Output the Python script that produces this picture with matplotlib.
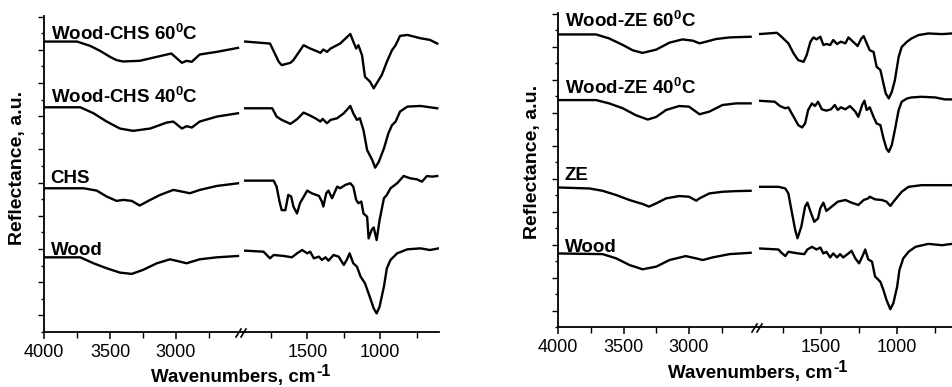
import matplotlib
matplotlib.use("Agg")
import matplotlib.pyplot as plt
from matplotlib import font_manager
from matplotlib.lines import Line2D
from matplotlib.ticker import FixedLocator, NullFormatter

# fuentes
nombres = {f.name for f in font_manager.fontManager.ttflist}
hay_narrow = "Liberation Sans Narrow" in nombres
fuente_ticks = "Liberation Sans Narrow" if hay_narrow else "Liberation Sans"
tam_ticks = 15 if hay_narrow else 13
plt.rcParams["font.family"] = ["Liberation Sans", "DejaVu Sans"]
plt.rcParams["mathtext.fontset"] = "custom"
plt.rcParams["mathtext.rm"] = "Liberation Sans:bold"
plt.rcParams["mathtext.it"] = "Liberation Sans:bold"
plt.rcParams["mathtext.bf"] = "Liberation Sans:bold"

# ---------------- Panel izquierdo: madera - CHS ----------------
# zona 4000-2500 cm-1
wcs60_wn_a = [4000, 3750, 3650, 3575, 3500, 3450, 3400, 3275, 3145, 3035, 2955, 2920, 2880, 2820, 2690, 2530]
wcs60_r_a = [8.75, 8.75, 8.62, 8.47, 8.29, 8.19, 8.15, 8.17, 8.29, 8.39, 8.11, 8.17, 8.14, 8.36, 8.44, 8.56]
wcs40_wn_a = [4000, 3725, 3625, 3525, 3425, 3325, 3195, 3070, 3020, 2955, 2920, 2880, 2820, 2690, 2530]
wcs40_r_a = [6.77, 6.77, 6.59, 6.34, 6.13, 6.06, 6.13, 6.31, 6.34, 6.13, 6.20, 6.16, 6.34, 6.49, 6.59]
chs_wn_a = [4000, 3700, 3600, 3525, 3450, 3400, 3335, 3275, 3195, 3120, 3020, 2955, 2895, 2820, 2690, 2530]
chs_r_a = [4.33, 4.33, 4.26, 4.08, 3.95, 3.98, 3.95, 3.81, 3.98, 4.13, 4.28, 4.23, 4.18, 4.28, 4.40, 4.48]
wood1_wn_a = [4000, 3725, 3625, 3525, 3425, 3335, 3250, 3145, 3045, 2970, 2920, 2820, 2690, 2530]
wood1_r_a = [2.25, 2.25, 2.07, 1.92, 1.79, 1.75, 1.87, 2.07, 2.19, 2.12, 2.07, 2.19, 2.25, 2.29]

# zona 1950-600 cm-1
wcs60_wn_b = [1925, 1755, 1695, 1675, 1615, 1595, 1525, 1480, 1435, 1410, 1390, 1365, 1340, 1310, 1275, 1205,
              1185, 1165, 1150, 1125, 1105, 1070, 1045, 1025, 990, 955, 920, 895, 865, 815, 725, 660, 610]
wcs60_r_b = [8.75, 8.69, 8.14, 8.04, 8.11, 8.19, 8.64, 8.54, 8.46, 8.41, 8.51, 8.44, 8.54, 8.61, 8.69, 8.98,
             8.75, 8.54, 8.64, 8.34, 7.69, 7.54, 7.34, 7.49, 7.74, 8.14, 8.49, 8.64, 8.92, 8.95, 8.85, 8.80, 8.69]
wcs40_wn_b = [1925, 1740, 1710, 1675, 1615, 1570, 1525, 1490, 1445, 1410, 1395, 1365, 1340, 1295, 1250, 1205,
              1185, 1160, 1140, 1115, 1090, 1055, 1035, 1010, 975, 945, 920, 895, 865, 815, 725, 660, 610]
wcs40_r_b = [6.74, 6.74, 6.49, 6.39, 6.27, 6.41, 6.61, 6.54, 6.44, 6.34, 6.42, 6.29, 6.39, 6.44, 6.59, 6.81,
             6.59, 6.39, 6.44, 6.08, 5.48, 5.18, 4.95, 5.13, 5.53, 5.98, 6.23, 6.34, 6.64, 6.79, 6.81, 6.77, 6.74]
chs_wn_b = [1925, 1730, 1710, 1690, 1675, 1650, 1630, 1610, 1595, 1570, 1550, 1500, 1470, 1420, 1400, 1390,
            1370, 1355, 1330, 1295, 1275, 1240, 1205, 1185, 1165, 1150, 1130, 1115, 1090, 1080, 1060, 1045,
            1025, 1005, 975, 955, 930, 885, 840, 795, 750, 715, 680, 645, 610]
chs_r_b = [4.56, 4.56, 4.38, 3.93, 3.67, 3.67, 4.13, 4.08, 3.78, 3.57, 3.88, 4.26, 4.18, 4.10, 3.93, 3.78,
           4.18, 4.26, 4.03, 4.38, 4.33, 4.43, 4.48, 4.38, 3.98, 3.88, 3.93, 3.57, 3.47, 2.82, 3.07, 3.15,
           2.77, 3.37, 4.03, 4.13, 4.33, 4.48, 4.70, 4.63, 4.60, 4.53, 4.70, 4.68, 4.70]
wood1_wn_b = [1925, 1800, 1755, 1730, 1660, 1605, 1570, 1535, 1500, 1480, 1455, 1420, 1400, 1375, 1355, 1320,
              1285, 1250, 1230, 1210, 1185, 1160, 1135, 1105, 1080, 1045, 1025, 1005, 975, 955, 930, 885,
              815, 725, 660, 600]
wood1_r_b = [2.45, 2.42, 2.22, 2.32, 2.29, 2.25, 2.37, 2.47, 2.37, 2.42, 2.22, 2.27, 2.17, 2.25, 2.15, 2.32,
             2.27, 2.02, 2.17, 2.37, 2.07, 1.97, 1.67, 1.47, 1.16, 0.71, 0.56, 0.76, 1.37, 1.92, 2.17, 2.37,
             2.49, 2.52, 2.47, 2.52]

# ---------------- Panel derecho: madera - ZE ----------------
wze60_wn_a = [4000, 3710, 3610, 3505, 3430, 3355, 3250, 3150, 3050, 2970, 2920, 2870, 2795, 2690, 2530]
wze60_r_a = [8.87, 8.87, 8.75, 8.55, 8.39, 8.31, 8.41, 8.62, 8.72, 8.68, 8.60, 8.65, 8.73, 8.78, 8.80]
wze40_wn_a = [4000, 3710, 3610, 3505, 3405, 3315, 3250, 3175, 3075, 3000, 2920, 2845, 2745, 2640, 2530]
wze40_r_a = [6.88, 6.88, 6.78, 6.63, 6.42, 6.29, 6.37, 6.58, 6.70, 6.68, 6.45, 6.53, 6.73, 6.78, 6.78]
ze_wn_a = [4000, 3760, 3660, 3555, 3455, 3355, 3305, 3250, 3175, 3075, 3000, 2945, 2920, 2845, 2745, 2640, 2530]
ze_r_a = [4.23, 4.20, 4.13, 4.00, 3.85, 3.73, 3.65, 3.75, 3.90, 3.97, 3.95, 3.83, 3.90, 4.05, 4.10, 4.12, 4.13]
wood2_wn_a = [4000, 3660, 3555, 3455, 3355, 3250, 3150, 3025, 2945, 2895, 2820, 2690, 2530]
wood2_r_a = [2.23, 2.21, 2.08, 1.88, 1.75, 1.83, 2.03, 2.15, 2.08, 2.03, 2.11, 2.21, 2.25]

wze60_wn_b = [1910, 1790, 1760, 1715, 1680, 1650, 1615, 1595, 1570, 1550, 1530, 1505, 1485, 1465, 1440, 1420,
              1395, 1370, 1340, 1320, 1290, 1260, 1235, 1220, 1200, 1180, 1155, 1135, 1110, 1090, 1075, 1055,
              1035, 1015, 990, 970, 935, 905, 860, 795, 705, 640]
wze60_r_b = [8.88, 8.92, 8.80, 8.60, 8.29, 8.09, 8.04, 8.24, 8.65, 8.78, 8.72, 8.80, 8.55, 8.58, 8.55, 8.70,
             8.58, 8.65, 8.60, 8.78, 8.65, 8.52, 8.75, 8.82, 8.60, 8.39, 8.34, 7.89, 7.79, 7.38, 7.08, 6.93,
             7.13, 7.48, 8.19, 8.49, 8.65, 8.75, 8.85, 8.90, 8.88, 8.90]
wze40_wn_b = [1910, 1805, 1770, 1735, 1715, 1680, 1650, 1625, 1605, 1585, 1560, 1540, 1520, 1495, 1465, 1435,
              1410, 1390, 1370, 1340, 1310, 1275, 1255, 1230, 1215, 1200, 1180, 1155, 1135, 1110, 1090, 1070,
              1055, 1035, 1015, 990, 970, 935, 905, 840, 750, 685, 640]
wze40_r_b = [6.86, 6.83, 6.70, 6.63, 6.66, 6.37, 6.12, 6.05, 6.17, 6.58, 6.78, 6.70, 6.83, 6.60, 6.56, 6.60,
             6.73, 6.58, 6.66, 6.60, 6.70, 6.53, 6.37, 6.73, 6.86, 6.58, 6.66, 6.37, 6.17, 6.12, 5.72, 5.41,
             5.31, 5.52, 5.97, 6.58, 6.83, 6.93, 6.96, 6.98, 6.96, 6.90, 6.90]
ze_wn_b = [1910, 1780, 1735, 1715, 1695, 1670, 1655, 1630, 1605, 1590, 1565, 1545, 1520, 1505, 1485, 1465,
           1430, 1390, 1340, 1300, 1255, 1220, 1190, 1180, 1145, 1100, 1070, 1045, 1015, 970, 925, 840, 730, 640]
ze_r_b = [4.25, 4.25, 4.20, 4.05, 3.55, 2.94, 2.69, 3.04, 3.65, 3.77, 3.44, 3.19, 3.29, 3.60, 3.77, 3.52,
          3.65, 3.80, 3.85, 3.77, 3.70, 3.85, 3.90, 3.95, 3.87, 3.85, 3.80, 3.67, 3.85, 4.10, 4.25, 4.30, 4.30, 4.30]
wood2_wn_b = [1900, 1780, 1760, 1735, 1715, 1650, 1610, 1590, 1560, 1530, 1505, 1485, 1465, 1440, 1420, 1395,
              1375, 1355, 1320, 1300, 1275, 1250, 1220, 1210, 1190, 1165, 1145, 1110, 1090, 1070, 1045, 1025,
              1000, 985, 960, 925, 880, 795, 705, 640]
wood2_r_b = [2.38, 2.35, 2.25, 2.15, 2.28, 2.23, 2.21, 2.35, 2.43, 2.35, 2.41, 2.23, 2.28, 2.11, 2.23, 2.11,
             2.21, 2.11, 2.23, 2.31, 2.08, 1.93, 2.23, 2.35, 2.05, 1.98, 1.53, 1.37, 1.12, 0.82, 0.54, 0.72,
             1.22, 1.73, 2.08, 2.28, 2.43, 2.52, 2.48, 2.52]

# etiquetas de cada espectro
etiq_chs = ["Wood-CHS 60$^0$C", "Wood-CHS 40$^0$C", "CHS", "Wood"]
etiq_ze = ["Wood-ZE 60$^0$C", "Wood-ZE 40$^0$C", "ZE", "Wood"]
etiq_chs_y = [8.80, 6.90, 4.49, 2.32]
etiq_ze_y = [9.09, 7.06, 4.45, 2.27]

W, H = 952, 387
fig = plt.figure(figsize=(W / 100, H / 100), dpi=100)


def eje(x0, x1, y_bot, y_top):
    # crea un eje en coordenadas de pixel
    return fig.add_axes([x0 / W, 1 - y_bot / H, (x1 - x0) / W, (y_bot - y_top) / H])


def estilo(ax, izq, mayores, menores):
    ax.set_ylim(0, 9.52)
    for s in ["top", "right"]:
        ax.spines[s].set_visible(False)
    ax.spines["bottom"].set_linewidth(1.3)
    ax.spines["left"].set_linewidth(1.3)
    ax.xaxis.set_major_locator(FixedLocator(mayores))
    ax.xaxis.set_minor_locator(FixedLocator(menores))
    ax.set_xticklabels([str(m) for m in mayores])
    ax.tick_params(axis="x", which="major", length=5, width=1.1, pad=3.5,
                   labelsize=tam_ticks, labelfontfamily=fuente_ticks)
    ax.tick_params(axis="x", which="minor", length=4, width=1.0)
    if izq:
        ax.yaxis.set_major_locator(FixedLocator([k + 0.5 for k in range(10)]))
        ax.yaxis.set_minor_locator(FixedLocator(list(range(10))))
        ax.yaxis.set_major_formatter(NullFormatter())
        ax.tick_params(axis="y", which="major", length=4, width=1.0)
        ax.tick_params(axis="y", which="minor", length=2.5, width=1.0)
    else:
        ax.spines["left"].set_visible(False)
        ax.set_yticks([])
    ax.patch.set_alpha(0)


def quiebre(xp, yp):
    for dx in (-5, 0):
        fig.add_artist(Line2D([(xp + dx - 2) / W, (xp + dx + 3) / W],
                              [1 - (yp + 5) / H, 1 - (yp - 3) / H], color="black", lw=1.2))


def panel(x_ini, x_quiebre, x_fin, y_bot, y_top, lim_a, lim_b, tramos_a, tramos_b, etiq, etiq_y):
    ax_a = eje(x_ini, x_quiebre, y_bot, y_top)
    ax_b = eje(x_quiebre, x_fin, y_bot, y_top)
    for wn, r in tramos_a:
        ax_a.plot(wn, r, color="black", lw=1.7, solid_joinstyle="round")
    for wn, r in tramos_b:
        ax_b.plot(wn, r, color="black", lw=1.7, solid_joinstyle="round")
    ax_a.set_xlim(*lim_a)
    ax_b.set_xlim(*lim_b)
    estilo(ax_a, True, [4000, 3500, 3000], [3750, 3250, 2750])
    estilo(ax_b, False, [1500, 1000], [1750, 1250, 750])
    for t, yv in zip(etiq, etiq_y):
        ax_a.text(3950, yv, t, fontsize=13.5, fontweight="bold", va="baseline", ha="left")
    quiebre(x_quiebre, y_bot)
    return ax_a, ax_b


panel(44, 243, 439, 332, 16, (4000, 2492), (1940, 598),
      [(wcs60_wn_a, wcs60_r_a), (wcs40_wn_a, wcs40_r_a), (chs_wn_a, chs_r_a), (wood1_wn_a, wood1_r_a)],
      [(wcs60_wn_b, wcs60_r_b), (wcs40_wn_b, wcs40_r_b), (chs_wn_b, chs_r_b), (wood1_wn_b, wood1_r_b)],
      etiq_chs, etiq_chs_y)
panel(558, 759, 958, 327, 13, (4000, 2466), (1908, 600),
      [(wze60_wn_a, wze60_r_a), (wze40_wn_a, wze40_r_a), (ze_wn_a, ze_r_a), (wood2_wn_a, wood2_r_a)],
      [(wze60_wn_b, wze60_r_b), (wze40_wn_b, wze40_r_b), (ze_wn_b, ze_r_b), (wood2_wn_b, wood2_r_b)],
      etiq_ze, etiq_ze_y)

# titulos de ejes
for xc, yc in [(18, 168), (532, 162)]:
    fig.text(xc / W, 1 - yc / H, "Reflectance, a.u.", rotation=90, fontsize=14,
             fontweight="bold", ha="center", va="center")

fig.canvas.draw()
render = fig.canvas.get_renderer()
for xc, yb in [(233, 382), (750, 378)]:
    t = fig.text(xc / W, 1 - yb / H, "Wavenumbers, cm", fontsize=13.5,
                 fontweight="bold", ha="center", va="baseline")
    bb = t.get_window_extent(render)
    # exponente -1 con guion normal, como en el original
    fig.text((bb.x1 + 1) / W, (bb.y1 + 5) / H, "-1", fontsize=11.5,
             fontweight="bold", ha="left", va="top")

fig.savefig("out.png", dpi=100)
